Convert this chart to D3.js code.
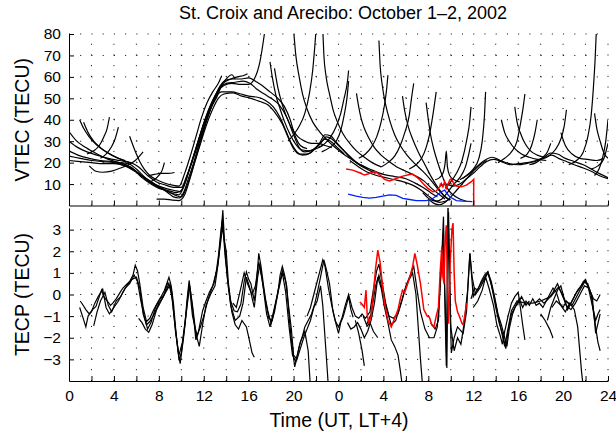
<!DOCTYPE html>
<html>
<head>
<meta charset="utf-8">
<script src="https://cdnjs.cloudflare.com/ajax/libs/d3/7.8.5/d3.min.js"></script>
<style>
  body { margin: 0; background: #fff; }
  text { font-family: "Liberation Sans", Arial, Helvetica, sans-serif; fill: #000; }
</style>
</head>
<body>
<div id="chart"></div>
<script>
// ---- data (hours since Oct 1 00 UT, value) ----
var chartTitle = "St. Croix and Arecibo: October 1\u20132, 2002";
var hourTicks = [0, 4, 8, 12, 16, 20, 24, 28, 32, 36, 40, 44, 48];
var hourTickLabels = ["0", "4", "8", "12", "16", "20", "0", "4", "8", "12", "16", "20", "24"];
var gridHours = d3.range(2, 49, 2);
var vtecTicks = [10, 20, 30, 40, 50, 60, 70, 80];
var tecpTicks = [-3, -2, -1, 0, 1, 2, 3];

// VTEC satellite passes, day 1
var vtecDay1 = [
  [[0,34.5],[0.6,30.5],[1.5,27],[2.5,24],[3.5,21.5],[4.5,20],[5.5,18],[6.2,15],[7,12],[7.8,9.5],[8.6,8],[9.4,7],[9.9,6.5],[10.4,12],[10.9,20],[11.5,30],[12.1,40],[12.7,48],[13.2,53],[13.8,56],[14.5,57],[15.3,56.5],[16,56.5],[16.5,59],[17,67],[17.4,80],[17.6,88]],
  [[0,25.5],[0.8,23.5],[1.8,22],[2.8,21],[3.8,20.5],[4.8,19.5],[5.6,17.5],[6.3,14.5],[7,11.5],[7.8,9],[8.6,7],[9.3,5.5],[9.8,5],[10.3,10],[10.8,18],[11.4,28],[12,38],[12.6,46],[13.1,51],[13.6,53],[14.5,53],[15.3,52],[16,51],[16.8,50.5],[17.5,49],[18.2,46],[18.8,41],[19.3,35],[19.8,29],[20.3,25],[20.8,23.5],[21.5,24.5],[22.2,28],[22.8,31],[23.3,30],[23.9,27],[24.5,24]],
  [[0,23],[1,22],[2,21],[3,20.5],[4,20],[5,18.5],[6,15.5],[6.8,12.5],[7.5,10],[8.3,8],[9,6],[9.6,4.5],[10,4],[10.5,9],[11,17],[11.6,27],[12.2,37],[12.8,45],[13.3,50],[13.8,52],[14.6,52.5],[15.4,51],[16.2,50],[17,48.5],[17.7,47],[18.4,43],[19,38],[19.5,32],[20,26.5],[20.5,24],[21.2,24],[21.8,26],[22.4,29],[22.9,32],[23.4,31],[24,28],[24.6,25],[25.3,21.5],[26,18.5]],
  [[1.8,18.5],[2.4,16],[3,15.5],[3.8,16],[4.6,17.5],[5.3,19],[5.9,21],[6.6,25]],
  [[4.6,20],[5.3,19.5],[6,17],[6.8,13],[7.5,10.5],[8.2,8],[8.8,6],[9.3,4],[9.8,3.5],[10.2,6],[10.6,12],[11.1,20],[11.7,31],[12.3,41],[12.9,49],[13.3,54],[13.8,58],[14.5,59],[15.2,59],[16,59.5],[16.6,58],[17.2,56],[17.9,53],[18.6,50],[19.2,46],[19.7,40],[20.1,33],[20.6,28],[21.2,26.5]],
  [[7.8,3],[8.5,3],[9.2,2.5],[9.8,2.3],[10.3,5],[10.8,13],[11.4,24],[12,35],[12.6,45],[13.1,51],[13.5,55],[14,57],[14.8,57.5],[15.5,58],[16.1,57],[16.8,54],[17.4,52],[18,50],[18.7,47],[19.4,41],[20,33],[20.5,27],[21,25],[21.7,26],[22.3,29],[22.8,33],[23.3,32.5],[23.8,29.5],[24.4,26],[25,22.5],[25.7,19.5],[26.5,17],[27.3,15]],
  [[0,30],[0.8,27],[1.6,25],[2.5,23.5],[3.5,22],[4.5,21],[5.5,20],[6.2,18],[7,14],[7.8,11],[8.6,9.5],[9.3,8.5],[10,8.5],[10.5,14],[11,21],[11.6,30],[12.2,39],[12.7,46],[13.2,51],[13.6,56],[14,59],[14.5,61],[14.8,59]],
  [[0,21],[1,20.5],[2,20],[3,19.5],[4,19.5],[5,18.5],[5.8,16.5],[6.5,13],[7.3,10],[8,8],[8.8,7],[9.6,6],[10.1,7.5],[10.6,15],[11.2,25],[11.8,35],[12.4,44],[13,51],[13.5,56],[14.2,58.5],[15,60],[15.5,60.5],[15.9,61.5]],
  [[0.95,40],[1.3,36],[1.8,32],[2.4,28.5],[3,26],[3.8,23.5],[4.6,21.5],[5.4,20]],
  [[1.3,38.8],[1.7,34],[2.2,30],[2.8,27],[3.5,24.5],[4.2,22.5],[5,21]],
  [[1.6,24],[2.2,25.5],[2.7,28],[3.1,32],[3.4,36],[3.6,41.2]],
  [[2.8,22],[3.3,24],[3.8,27.5],[4.1,31],[4.4,36.6]],
  [[5.4,32.3],[5.7,28],[6,24],[6.3,20.5],[6.7,17],[7.2,14],[7.8,12],[8.5,10.5],[9.2,9.5],[9.8,9],[10.3,15],[10.8,23],[11.3,32],[11.8,41],[12.3,48],[12.8,53],[13.3,57],[13.6,60.5]],
  [[7.1,13.8],[7.6,14.5],[8.2,15],[8.8,15],[9.4,15.4]],
  [[7.2,11],[7.6,12],[8,14],[8.3,16.5],[8.5,20]],
  [[17.9,67],[18.1,60],[18.4,52],[18.8,45],[19.2,39],[19.7,33],[20.2,28.5],[20.7,26],[21.4,25.5],[22,26.5],[22.6,28]],
  [[18.3,64],[18.6,55],[19,47],[19.4,41],[19.9,35.5],[20.4,32],[21,30],[21.6,29],[22.2,29],[22.8,28],[23.4,27]],
  [[20,82],[20.2,70],[20.5,60],[20.8,52],[21.2,45],[21.7,39],[22.3,34.5],[22.9,31],[23.5,28],[24.2,25],[25,22],[25.8,19.5],[26.6,17]],
  [[19.5,30],[20,33],[20.5,37],[21,43],[21.4,52],[21.7,63],[21.9,75],[22,82]],
  [[22.6,82],[22.7,70],[22.9,60],[23.2,52],[23.5,45],[23.9,39],[24.4,33.5],[25,29],[25.6,25.5],[26.3,22.5],[27,20],[27.8,18]],
  [[22.2,27],[22.8,29],[23.3,32],[23.8,37],[24.2,43],[24.5,50],[24.8,58],[24.9,63]],
  [[22.5,25],[23.2,27],[23.8,30],[24.2,35],[24.5,42],[24.75,50],[24.9,58]]
];

// VTEC satellite passes, day 2
var vtecDay2 = [
  [[25.6,52.3],[25.8,46],[26,41],[26.3,36],[26.7,31.5],[27.2,27],[27.8,23.5],[28.5,20.5],[29.2,18],[30,16],[30.8,14],[31.6,11.5],[32.3,8],[33,5],[33.5,3]],
  [[27.6,77],[27.7,66],[27.9,56],[28.2,47],[28.6,39],[29,33],[29.5,28],[30.1,23.5],[30.8,19.5],[31.5,16],[32.2,12],[32.8,8],[33.3,5],[33.8,3]],
  [[25.8,22],[26.4,24],[26.9,27],[27.4,32],[27.8,39],[28.1,47],[28.3,55],[28.4,60.8]],
  [[27.8,18],[28.4,20],[29,23],[29.5,28],[29.9,34],[30.3,42],[30.5,50],[30.7,57]],
  [[29.7,51],[29.9,44],[30.2,37],[30.6,31],[31.1,25],[31.7,19],[32.3,13],[32.9,8],[33.4,4.5],[33.9,2.5]],
  [[30.3,17],[30.9,19],[31.4,22],[31.8,27],[32.1,33],[32.4,42],[32.7,53]],
  [[31.8,48],[32,40],[32.2,33],[32.5,26],[32.9,19],[33.3,13],[33.7,8],[34.2,5],[34.8,3],[35.4,2]],
  [[32,3],[32.5,1],[33,0.3],[33.5,1.5],[34,4],[34.5,7],[35,10],[35.5,13],[36,16],[36.6,19],[37.2,21]],
  [[31.5,6],[32.1,3],[32.7,2],[33.2,3],[33.7,6],[34.2,9.5],[34.8,13],[35.3,18],[35.6,24],[35.8,29]],
  [[33.5,8],[34,11],[34.5,15],[35,21],[35.4,30],[35.7,40],[35.8,46]],
  [[34.8,12],[35.4,14],[36,17],[36.5,22],[36.8,30],[37,42],[37.1,53]],
  [[32.6,12],[33,13],[33.3,15],[33.5,20],[33.6,25.4],[33.7,18],[33.9,14],[34.3,12],[34.8,11]],
  [[33,9],[33.6,10],[34.2,9],[34.8,10],[35.4,12.5],[36,15],[36.6,18],[37.2,20.5],[37.8,21.5],[38.5,20.5],[39.3,19],[40,19.5],[40.8,20],[41.6,21],[42.4,22.5],[43,23.5],[43.6,22],[44.3,20.5],[45,19],[45.8,17.5],[46.5,16],[47.2,14],[48,12.5]],
  [[35,12.5],[35.7,15],[36.3,18],[37,21],[37.7,22.5],[38.4,21],[39.2,19.5],[40,19],[40.7,19.5],[41.5,20.5],[42.2,22],[42.9,24.5],[43.5,24],[44.2,22],[45,20.5],[45.8,19],[46.5,17],[47.2,15],[48,13]],
  [[38.5,40],[38.8,34],[39.2,30],[39.7,26.5],[40.3,24],[41,22.5],[41.7,21.5],[42.5,21]],
  [[39.7,46],[39.9,39],[40.2,33.8],[40.6,29],[41.1,25.5],[41.7,23.5],[42.3,22.5]],
  [[38.2,20],[38.8,22],[39.4,25],[39.9,30],[40.2,38],[40.45,46],[40.6,52]],
  [[41,19],[41.6,20],[42.2,22.5],[42.6,25],[42.9,29]],
  [[42,21.5],[42.7,23],[43.3,26],[43.8,31],[44.1,37],[44.3,44.6]],
  [[44.5,19],[45.2,21],[45.8,25],[46.2,32],[46.5,42],[46.7,55],[46.85,68],[46.95,80]],
  [[46.8,43],[47,36],[47.3,30],[47.6,25],[48,22]],
  [[46.8,14],[47.2,17],[47.5,22],[47.8,30],[48,40]],
  [[46.5,17],[47.1,18.5],[47.6,21.5],[48,29]],
  [[40.2,22],[40.8,24],[41.2,28],[41.5,34],[41.7,40]],
  [[43.8,34],[44.2,28],[44.8,24],[45.5,22],[46.2,21.5],[47,21],[47.6,22]],
  [[25,21],[25.8,18],[26.6,15.5],[27.4,14],[28.2,13],[29,12],[29.8,11],[30.6,9.5],[31.4,7],[32,4.5],[32.5,2.5],[33,1.5],[33.5,2],[34,3]],
  [[26,19],[27,16.5],[28,14.5],[29,13.5],[30,12.5],[30.8,10.5],[31.5,8.5],[32.2,6],[32.8,4]]
];

// Arecibo ISR VTEC (red) and its bottomside part (blue)
var vtecRed = [[24.68,17],[25.27,16.5],[25.87,15.3],[26.32,14.2],[26.61,14.65],[26.91,15.3],[27.3,15.7],[27.5,15],[27.8,13.7],[28.1,12.2],[28.55,11.5],[29.14,12.6],[29.73,13.7],[30.33,14.5],[30.6,14.65],[30.93,13.4],[31.2,12.2],[31.52,10.3],[31.96,8],[32.41,6.4],[32.7,6.7],[33,8.7],[33.15,10.3],[33.3,8.7],[33.45,11.1],[33.6,8],[33.9,11.85],[34.05,12.6],[34.25,10.3],[34.5,9.05],[34.94,8.7],[35.39,9.5],[35.83,11.1],[36.04,12.2],[36.04,0]];
var vtecBlue = [[24.86,5.3],[25.57,4.4],[26.17,3.8],[26.76,3.45],[27.36,3.8],[27.95,4.4],[28.55,5],[29.14,4.7],[29.73,3.3],[30.33,2.8],[30.93,2.3],[31.82,2.3],[32.27,2.8],[32.7,4.4],[33.15,6.4],[33.45,7.2],[33.66,5.6],[33.9,4.1],[34.5,2.3],[35.1,2],[35.92,1.8]];

// TECP (detrended TEC) passes
var tecpPasses = [
  [[1.0,-0.3],[1.2,-0.45],[1.5,-0.7],[1.8,-0.9],[2.1,-0.7],[2.4,-0.55],[2.7,-0.1],[2.9,0.2],[3.1,-0.1],[3.4,-0.3],[3.7,-0.5],[3.9,-0.4],[4.2,-0.2],[4.5,0.05],[4.8,0.3],[5.1,0.45],[5.4,0.6],[5.7,0.9],[5.9,1.35],[6.1,1.1],[6.3,0.5],[6.6,-0.6],[6.9,-1.25],[7.2,-1.1],[7.5,-0.75],[7.8,-0.45],[8.2,-0.1],[8.5,0.2],[8.9,0.8],[9.1,0.4],[9.3,-0.4],[9.5,-1.6],[9.8,-3.05],[10.0,-2.7],[10.3,-1.5],[10.5,-0.3],[10.7,0.65],[10.9,-0.2],[11.1,-1.1],[11.3,-2.1],[11.5,-1.8],[11.9,-0.75],[12.2,-0.3],[12.5,0.1],[12.9,0.5],[13.1,1.0],[13.3,1.75],[13.5,2.8],[13.65,3.45],[13.8,2.6],[14.0,2.0],[14.2,0.5],[14.4,-0.3],[14.7,-0.75],[15.0,-0.8],[15.3,-0.45],[15.6,0.6],[15.8,1.05],[16.0,0.7],[16.2,0.5],[16.5,-0.3],[16.7,0.6],[16.9,1.9],[17.1,1.3],[17.3,0.5],[17.5,-0.2],[17.7,-0.75],[18.0,-1.35],[18.3,-0.8],[18.6,0.05],[18.8,0.9],[19.0,1.3],[19.2,0.9],[19.4,0.35],[19.6,-1.0],[19.8,-2.1],[20.1,-3.35],[20.3,-2.9],[20.5,-2.4],[20.8,-1.9],[21.0,-1.5],[21.3,-1.2],[21.6,-0.9],[21.9,-0.4],[22.1,0.05],[22.4,0.8],[22.7,1.6],[22.9,1.2],[23.2,0.5],[23.5,-0.75],[23.8,-1.4],[24.0,-1.8],[24.2,-1.3],[24.4,-1.05],[24.7,-0.5],[24.9,-0.1],[25.1,-0.7],[25.3,-1.05]],
  [[0.95,-0.6],[1.2,-1.0],[1.5,-1.5],[1.7,-1.0],[2.0,-0.8],[2.3,-0.4],[2.6,-0.1],[3.0,0.25],[3.3,-0.6],[3.6,-0.9],[4.0,-0.6],[4.4,-0.3],[4.8,0.1],[5.2,0.45],[5.6,0.7],[6.0,0.8],[6.3,0.3],[6.6,-0.9],[6.9,-1.4],[7.2,-1.25],[7.6,-0.9],[8.0,-0.4],[8.4,-0.1],[8.8,0.55],[9.1,0.2],[9.4,-1.2],[9.7,-2.6],[9.9,-3.2],[10.2,-2.0],[10.5,-0.6],[10.75,0.4],[11.0,-0.5],[11.3,-1.8],[11.6,-2.4],[11.9,-1.4],[12.2,-0.5],[12.6,0.0],[13.0,0.4],[13.3,1.5],[13.55,2.9],[13.7,3.9],[13.85,2.4],[14.1,0.8],[14.4,-0.5],[14.8,-1.2],[15.2,-1.0],[15.5,-0.4],[15.8,0.8],[16.1,0.3],[16.5,-0.6],[16.8,0.8],[17.0,1.4],[17.3,0.3],[17.6,-0.9],[17.9,-1.5],[18.3,-0.6],[18.7,0.3],[19.0,1.0],[19.3,0.1],[19.6,-1.5],[19.9,-2.8],[20.2,-3.1],[20.6,-2.2],[21.0,-1.7],[21.3,-2.6],[21.5,-4.3]],
  [[2.2,-1.45],[2.5,-0.8],[2.8,-0.3],[3.2,0.1],[3.5,-0.5],[3.8,-0.8],[4.2,-0.3],[4.6,-0.1],[5.0,0.3],[5.4,0.5],[5.8,0.9],[6.1,0.6],[6.4,-0.3],[6.7,-1.0],[7.0,-1.6],[7.3,-1.3],[7.7,-0.6],[8.1,-0.2],[8.5,0.0],[8.9,0.5],[9.2,-0.2],[9.5,-1.8],[9.8,-2.8],[10.1,-2.2],[10.4,-1.0],[10.7,0.5],[11.0,-1.0],[11.4,-1.9],[11.7,-1.5],[12.0,-1.0],[12.4,-0.2],[12.8,0.4],[13.2,1.2],[13.5,2.4],[13.7,3.2],[13.9,1.8],[14.2,0.3],[14.5,-0.8],[14.8,-1.4],[15.1,-1.6],[15.4,-1.2],[15.8,-1.5],[16.1,-2.2],[16.3,-2.7],[16.5,-2.9]],
  [[6.2,-1.1],[6.5,-1.3],[6.8,-1.6],[7.1,-1.75],[7.4,-1.4],[7.8,-0.7],[8.2,-0.3],[8.6,0.1],[9.0,0.45],[9.2,0.0]],
  [[14.6,-0.4],[14.9,-0.6],[15.3,0.3],[15.6,1.0],[15.9,0.5],[16.3,0.0],[16.6,0.4],[16.9,1.5],[17.2,0.7],[17.5,-0.3],[17.8,-1.1],[18.1,-1.2],[18.4,-0.4],[18.7,0.4],[19.0,1.1],[19.3,0.6],[19.5,-0.3],[19.8,-1.6],[20.0,-2.8],[20.3,-3.0],[20.6,-2.5],[20.9,-2.0],[21.2,-1.6],[21.5,-1.2],[21.8,-0.6],[22.1,-0.3],[22.4,0.4],[22.6,-0.5],[22.8,-2.0],[23.0,-3.5],[23.1,-4.3]],
  [[21.2,-1.0],[21.5,-0.6],[21.8,0.0],[22.1,0.6],[22.4,1.2],[22.6,1.6],[22.8,1.3],[23.1,0.3],[23.4,-0.5],[23.7,-1.2],[24.0,-1.5],[24.3,-1.1],[24.6,-0.5],[24.9,0.0],[25.2,-0.6],[25.5,-1.0],[25.8,-1.1],[26.1,-0.9],[26.4,-1.1],[26.8,-0.8],[27.1,0.2],[27.4,1.1],[27.6,1.4],[27.9,0.5],[28.2,-0.4],[28.5,-1.0],[28.9,-1.1],[29.3,-0.9],[29.7,-0.2],[30.0,0.4],[30.4,0.9],[30.7,1.3],[31.0,0.2],[31.3,-0.8],[31.7,-1.6],[32.1,-2.0],[32.5,-2.0],[32.8,-1.5],[33.1,0.8],[33.3,2.6],[33.5,-0.5],[33.65,-3.4],[33.8,3.8],[34.0,-1.5],[34.3,-2.6],[34.6,-2.0],[34.9,-2.3],[35.2,-1.3],[35.5,0.2],[35.7,1.9],[35.9,0.8],[36.2,0.0],[36.6,0.3],[37.0,0.7],[37.3,1.0],[37.6,0.5],[38.0,-0.6],[38.3,-1.3],[38.6,-1.8],[38.9,-2.5],[39.1,-1.7],[39.4,-0.9],[39.7,-0.6],[40.0,-0.4],[40.3,-0.1],[40.7,-0.5],[41.0,-0.3]],
  [[24.8,-1.3],[25.1,-1.6],[25.4,-1.5],[25.7,-1.3],[26.0,-1.6],[26.3,-2.0],[26.6,-1.7],[26.9,-1.2],[27.2,-0.4],[27.5,0.8],[27.8,0.3],[28.1,-0.6],[28.4,-1.3],[28.7,-2.1],[29.0,-2.4],[29.3,-2.8],[29.5,-3.5],[29.7,-4.3]],
  [[26.2,-1.0],[26.5,-1.4],[26.9,-0.9],[27.3,0.4],[27.6,0.9],[27.9,0.2],[28.3,-0.7],[28.7,-1.4],[29.1,-1.2],[29.5,-0.5],[29.9,0.2],[30.3,0.7],[30.6,1.0],[30.9,0.0],[31.1,-1.5],[31.3,-3.0],[31.5,-4.3]],
  [[25.5,-1.2],[25.8,-1.8],[26.1,-2.6],[26.3,-3.3]],
  [[26.5,-1.5],[26.8,-1.3],[27.1,-1.7],[27.5,-2.0]],
  [[32.2,-1.3],[32.6,-1.6],[32.9,-1.2],[33.2,1.8],[33.35,3.6],[33.5,-1.0],[33.6,-3.3],[33.75,4.4],[33.9,0.0],[34.05,-2.7],[34.3,-2.0],[34.6,-1.5],[35.1,-1.8],[35.4,-0.8],[35.7,1.9],[36.0,-0.1],[36.5,0.35],[37.3,1.05],[37.8,0.05],[38.3,-1.2],[38.8,-2.4],[39.4,-0.75],[39.9,-0.3],[40.6,-0.4],[41.3,-0.4],[42.0,-0.3],[42.9,-0.1],[43.6,0.35],[44.2,-0.3],[44.8,-0.5],[45.5,0.2],[46.0,0.65],[46.6,-0.1],[46.9,-1.8],[47.3,-0.9]],
  [[35.8,-0.2],[36.1,0.3],[36.4,0.2],[36.7,0.6],[37.0,0.9],[37.3,1.05],[37.6,0.6],[37.9,-0.1],[38.2,-0.9],[38.5,-1.4],[38.8,-2.0],[39.0,-2.4],[39.2,-1.6],[39.5,-0.9],[39.8,-0.5],[40.1,-0.2],[40.4,-0.6],[40.7,-0.3],[41.0,-0.5],[41.3,-0.2],[41.6,-0.5],[41.9,-0.4],[42.2,-0.6],[42.5,-0.3],[42.8,0.0],[43.1,0.3],[43.4,0.1],[43.7,-0.4],[44.0,-0.6],[44.3,-0.3],[44.6,-0.5],[44.9,-0.2],[45.2,0.1],[45.5,0.3],[45.8,0.6],[46.0,0.7],[46.3,0.2],[46.6,-0.5],[46.9,-1.2],[47.1,-0.9],[47.3,-0.7]],
  [[36.0,-0.6],[36.4,-0.3],[36.8,0.2],[37.1,0.8],[37.4,0.3],[37.8,-0.5],[38.1,-1.4],[38.4,-1.9],[38.6,-2.3],[38.8,-1.7],[39.1,-1.0],[39.4,-0.4],[39.7,-0.1],[40.0,0.1],[40.2,-0.6],[40.4,-1.4],[40.6,-2.1]],
  [[42.6,-1.2],[42.9,-0.6],[43.2,-0.2],[43.5,0.2],[43.8,0.4],[44.1,-0.2],[44.4,-0.7],[44.7,-0.4],[45.0,-0.1],[45.3,0.2],[45.6,0.4],[45.9,0.6],[46.2,0.5],[46.5,0.0],[46.7,-0.8],[46.9,-1.5],[47.1,-2.2],[47.3,-2.6]],
  [[43.0,-0.6],[43.4,-0.3],[43.8,-0.5],[44.2,-0.8],[44.6,-0.4],[45.0,-0.7],[45.3,-1.5],[45.5,-2.7],[45.65,-3.6],[45.8,-4.3]],
  [[42.0,-0.9],[42.4,-1.2],[42.8,-1.6],[43.1,-2.0]],
  [[41.5,-0.4],[41.9,-0.2],[42.3,-0.4],[42.7,-0.2],[43.1,0.1],[43.5,0.5],[43.9,0.0],[44.3,-0.5],[44.7,-0.7],[45.1,-0.4],[45.5,0.0],[45.9,0.4],[46.3,0.3],[46.7,-0.2],[47.0,-0.3],[47.3,0.0]]
];

var tecpRed = [[25.9,-0.35],[26.1,-0.45],[26.3,-0.6],[26.45,0.2],[26.55,-0.9],[26.7,-1.35],[26.9,-1.0],[27.1,0.0],[27.3,1.2],[27.5,2.05],[27.7,1.5],[27.9,0.5],[28.1,-0.4],[28.4,-1.2],[28.7,-1.5],[29.0,-1.1],[29.3,-0.7],[29.5,-0.2],[29.7,0.2],[29.9,0.1],[30.1,0.4],[30.4,0.9],[30.6,1.3],[30.8,1.9],[31.0,1.4],[31.3,0.5],[31.6,-0.7],[31.9,-1.0],[32.1,-1.05],[32.3,-1.4],[32.5,-1.5],[32.7,-1.0],[32.9,-0.6],[33.05,1.0],[33.2,2.2],[33.3,0.8],[33.4,0.5],[33.5,2.5],[33.6,3.2],[33.7,0.5],[33.8,-1.35],[33.95,1.5],[34.1,3.0],[34.2,3.3],[34.3,1.0],[34.4,-0.3],[34.6,-0.8],[34.8,-1.05],[35.0,-1.35],[35.1,-1.4],[35.3,-0.8],[35.4,-0.4]];

function drawChart() {
  var width = 616,
      height = 433;

  var svg = d3.select("#chart")
    .append("svg")
    .attr("width", width)
    .attr("height", height);

  // shared time axis, two stacked panels
  var x = d3.scaleLinear().domain([0, 48]).range([69, 608]);
  var yTop = d3.scaleLinear().domain([0, 80]).range([205.5, 34]);
  var yBot = d3.scaleLinear().domain([-4, 4]).range([381, 208]);

  var defs = svg.append("defs");
  [["clipTop", yTop], ["clipBot", yBot]].forEach(function(c) {
    var r = c[1].range();
    defs.append("clipPath").attr("id", c[0])
      .append("rect")
      .attr("x", x(0)).attr("y", r[1])
      .attr("width", x(48) - x(0)).attr("height", r[0] - r[1]);
  });

  // dotted grid, like matlab "grid on"
  function drawGrid(yScale, yTicks) {
    var g = svg.append("g");
    var r = yScale.range();
    var yStep = Math.abs(yScale(yTicks[1]) - yScale(yTicks[0])) / 2;
    var xStep = (x(2) - x(0)) / 2;
    g.selectAll(".vg")
      .data(gridHours)
      .enter().append("line")
      .attr("x1", function(d) { return x(d); })
      .attr("x2", function(d) { return x(d); })
      .attr("y1", r[0]).attr("y2", r[1])
      .attr("stroke", "#000")
      .attr("stroke-width", 1)
      .attr("stroke-dasharray", "1," + (yStep - 1));
    g.selectAll(".hg")
      .data(yTicks)
      .enter().append("line")
      .attr("x1", x(0)).attr("x2", x(48))
      .attr("y1", function(d) { return yScale(d); })
      .attr("y2", function(d) { return yScale(d); })
      .attr("stroke", "#000")
      .attr("stroke-width", 1)
      .attr("stroke-dasharray", "1," + (xStep - 1));
  }
  drawGrid(yTop, vtecTicks);
  drawGrid(yBot, tecpTicks);

  var lineTop = d3.line()
    .x(function(d) { return x(d[0]); })
    .y(function(d) { return yTop(d[1]); })
    .curve(d3.curveMonotoneX);
  var lineTopLin = d3.line()
    .x(function(d) { return x(d[0]); })
    .y(function(d) { return yTop(d[1]); });
  var lineBot = d3.line()
    .x(function(d) { return x(d[0]); })
    .y(function(d) { return yBot(d[1]); });

  // top panel: VTEC
  var gTop = svg.append("g").attr("clip-path", "url(#clipTop)");
  gTop.selectAll(".pass")
    .data(vtecDay1.concat(vtecDay2))
    .enter().append("path")
    .attr("d", lineTop)
    .attr("fill", "none")
    .attr("stroke", "#000")
    .attr("stroke-width", 1.2);
  gTop.append("path").attr("d", lineTopLin(vtecBlue))
    .attr("fill", "none").attr("stroke", "#0020ff").attr("stroke-width", 1.3);
  gTop.append("path").attr("d", lineTopLin(vtecRed))
    .attr("fill", "none").attr("stroke", "#ff0000").attr("stroke-width", 1.5);

  // bottom panel: TECP
  var gBot = svg.append("g").attr("clip-path", "url(#clipBot)");
  gBot.selectAll(".pass")
    .data(tecpPasses)
    .enter().append("path")
    .attr("d", lineBot)
    .attr("fill", "none")
    .attr("stroke", "#000")
    .attr("stroke-width", 1.2);
  gBot.append("path").attr("d", lineBot(tecpRed))
    .attr("fill", "none").attr("stroke", "#ff0000").attr("stroke-width", 1.5);

  // axes (ticks point inward)
  var minorHours = d3.range(0, 49, 2);
  function styleAxis(g) {
    g.selectAll("path, line").attr("stroke", "#000").attr("stroke-width", 1);
    g.selectAll("text").attr("font-size", 15.5).attr("fill", "#000");
  }

  svg.append("g")
    .attr("transform", "translate(" + x(0) + ",0)")
    .call(d3.axisLeft(yTop).tickValues(vtecTicks).tickSize(-5).tickSizeOuter(0).tickPadding(8))
    .call(styleAxis);
  svg.append("g")
    .attr("transform", "translate(" + x(0) + ",0)")
    .call(d3.axisLeft(yBot).tickValues(tecpTicks).tickSize(-5).tickSizeOuter(0).tickPadding(8))
    .call(styleAxis);

  svg.append("g")
    .attr("transform", "translate(0," + yTop(0) + ")")
    .call(d3.axisBottom(x).tickValues(minorHours).tickSize(-5).tickSizeOuter(0).tickFormat(""))
    .call(styleAxis);
  svg.append("g")
    .attr("transform", "translate(0," + yBot(-4) + ")")
    .call(d3.axisBottom(x).tickValues(minorHours).tickSize(-5).tickSizeOuter(0)
      .tickPadding(9)
      .tickFormat(function(d) {
        var i = hourTicks.indexOf(d);
        return i < 0 ? "" : hourTickLabels[i];
      }))
    .call(styleAxis);

  // titles
  svg.append("text")
    .attr("x", 343).attr("y", 19)
    .attr("text-anchor", "middle")
    .attr("font-size", 18)
    .text(chartTitle);
  svg.append("text")
    .attr("x", 339).attr("y", 427)
    .attr("text-anchor", "middle")
    .attr("font-size", 19.5)
    .text("Time (UT, LT+4)");
  svg.append("text")
    .attr("transform", "translate(29," + (yTop(0) + yTop(80)) / 2 + ") rotate(-90)")
    .attr("text-anchor", "middle")
    .attr("font-size", 19.5)
    .text("VTEC (TECU)");
  svg.append("text")
    .attr("transform", "translate(29," + (yBot(-4) + yBot(4)) / 2 + ") rotate(-90)")
    .attr("text-anchor", "middle")
    .attr("font-size", 19.5)
    .text("TECP (TECU)");
}
drawChart();
</script>
</body>
</html>
